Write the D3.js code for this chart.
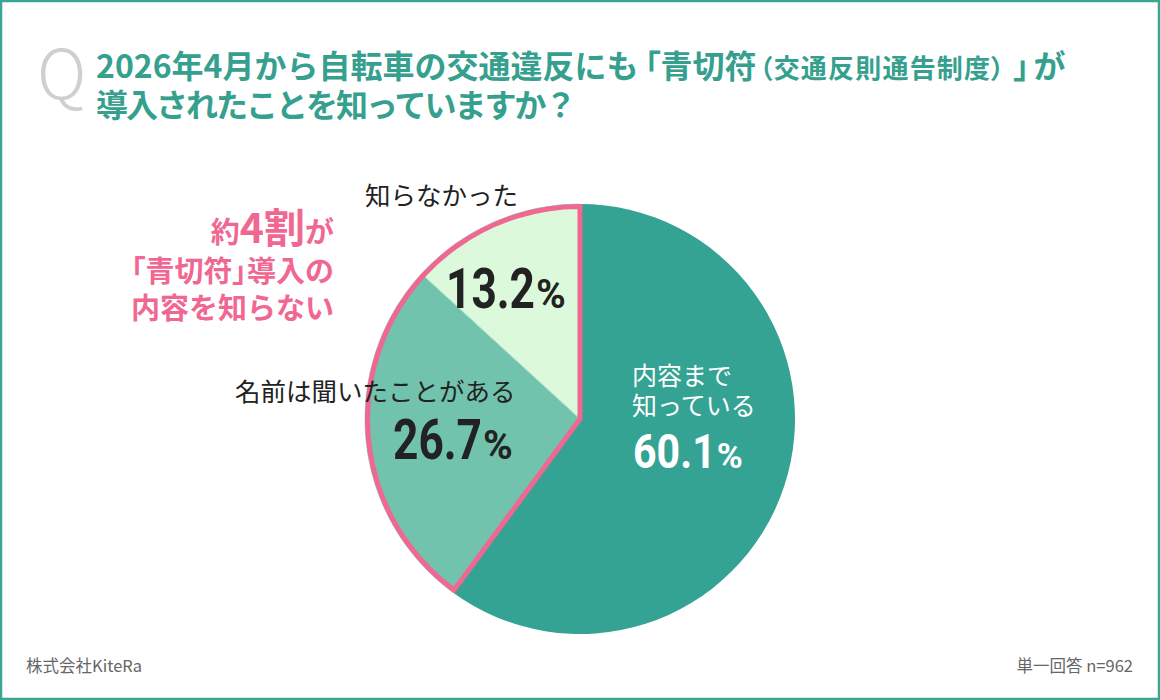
<html>
<head>
<meta charset="utf-8">
<script src="https://d3js.org/d3.v7.min.js"></script>
<style>
  body { margin: 0; background: #fff; }
  text { font-family: "Noto Sans CJK JP", "Noto Sans", sans-serif; }
  .num { font-family: Roboto, "Noto Sans", sans-serif; font-weight: 700; }
  .palt { font-feature-settings: "palt"; }
</style>
</head>
<body>
<svg id="chartArea" width="1160" height="700"></svg>
<script>
// data
const labels = ["内容まで知っている", "名前は聞いたことがある", "知らなかった"];
const values = [60.1, 26.7, 13.2];
const colors = ["#35a393", "#72c3ad", "#dcf9dc"];
const sampleNote = "単一回答 n=962";

const svg = d3.select("#chartArea");
const width = +svg.attr("width");
const height = +svg.attr("height");
const teal = "#35a08e";
const pink = "#f06891";

// frame
svg.append("rect")
    .attr("x", 1).attr("y", 1)
    .attr("width", width - 2).attr("height", height - 2)
    .attr("fill", "#fff")
    .attr("stroke", "#3aa593")
    .attr("stroke-width", 2.5);

// title
svg.append("text")
    .attr("x", 37).attr("y", 99)
    .attr("font-family", "Roboto, sans-serif")
    .attr("font-weight", 300)
    .attr("font-size", 68)
    .attr("fill", "#cfcfcf")
    .text("Q");

const t1 = svg.append("text")
    .attr("x", 96).attr("y", 78)
    .attr("font-size", 32).attr("font-weight", 700)
    .attr("fill", teal);
t1.append("tspan").text("2026年4月から自転車の交通違反にも");
t1.append("tspan").attr("class", "palt").attr("dx", 6).text("「");
t1.append("tspan").text("青切符");
t1.append("tspan").attr("class", "palt").attr("font-size", 26).attr("letter-spacing", 1.2)
    .attr("dx", 3).text("（交通反則通告制度）");
t1.append("tspan").attr("class", "palt").attr("dx", 8).text("」");
t1.append("tspan").attr("dx", 4).text("が");

svg.append("text")
    .attr("x", 96).attr("y", 117)
    .attr("font-size", 32).attr("font-weight", 700)
    .attr("letter-spacing", -2)
    .attr("fill", teal)
    .text("導入されたことを知っていますか？");

// callout
const call = svg.append("g")
    .attr("fill", pink).attr("font-weight", 700)
    .attr("text-anchor", "end");
const c1 = call.append("text").attr("x", 334).attr("y", 243).attr("font-size", 29);
c1.append("tspan").text("約");
c1.append("tspan").attr("font-size", 41).text("4割");
c1.append("tspan").text("が");
const c2 = call.append("text").attr("x", 334).attr("y", 282).attr("font-size", 29);
c2.append("tspan").attr("class", "palt").text("「");
c2.append("tspan").text("青切符");
c2.append("tspan").attr("class", "palt").text("」");
c2.append("tspan").text("導入の");
call.append("text").attr("x", 334).attr("y", 319).attr("font-size", 29).text("内容を知らない");

// pie
const cx = 580, cy = 419, r = 215;
const pie = d3.pie().sort(null).value(d => d);
const arcs = pie(values);
const arc = d3.arc().innerRadius(0).outerRadius(r);

const g = svg.append("g").attr("transform", `translate(${cx},${cy})`);
g.selectAll("path.slice")
    .data(arcs)
    .join("path")
    .attr("class", "slice")
    .attr("d", arc)
    .attr("fill", (d, i) => colors[i])
    .attr("stroke", (d, i) => i === 0 ? "none" : "#9fd8c2")
    .attr("stroke-width", 1);

// pink outline around the slices that don't know the content
g.append("path")
    .attr("d", d3.arc().innerRadius(0).outerRadius(r - 2.5)({
        startAngle: arcs[1].startAngle,
        endAngle: arcs[2].endAngle
    }))
    .attr("fill", "none")
    .attr("stroke", pink)
    .attr("stroke-width", 5)
    .attr("stroke-linejoin", "miter");

// labels
function pct(x, y, v, size, sx, fill) {
    const t = svg.append("text")
        .attr("class", "num")
        .attr("transform", `translate(${x},${y}) scale(${sx},1)`)
        .attr("font-size", size)
        .attr("fill", fill)
        .text(v.toFixed(1));
    const w = t.node().getComputedTextLength() * sx;
    svg.append("text")
        .attr("class", "num")
        .attr("x", x + w + 1).attr("y", y)
        .attr("font-size", size * 0.72)
        .attr("fill", fill)
        .text("%");
}

// 知らなかった
svg.append("text").attr("x", 365).attr("y", 205).attr("font-size", 25.5).attr("fill", "#222").text(labels[2]);
pct(446, 308, values[2], 56, 0.79, "#222");

// 名前は聞いたことがある
svg.append("text").attr("x", 235).attr("y", 401).attr("font-size", 25.5).attr("fill", "#222").text(labels[1]);
pct(393, 459, values[1], 56, 0.79, "#222");

// 内容まで知っている
svg.append("text").attr("x", 632).attr("y", 385).attr("font-size", 25).attr("fill", "#fff").text("内容まで");
svg.append("text").attr("x", 632).attr("y", 415).attr("font-size", 25).attr("fill", "#fff").text("知っている");
pct(633, 468, values[0], 49, 0.84, "#fff");

// footer
svg.append("text").attr("x", 26).attr("y", 672).attr("font-size", 16.5).attr("fill", "#666").text("株式会社KiteRa");
svg.append("text").attr("x", 1133).attr("y", 672).attr("font-size", 16.5).attr("fill", "#666")
    .attr("text-anchor", "end").text(sampleNote);
</script>
</body>
</html>
